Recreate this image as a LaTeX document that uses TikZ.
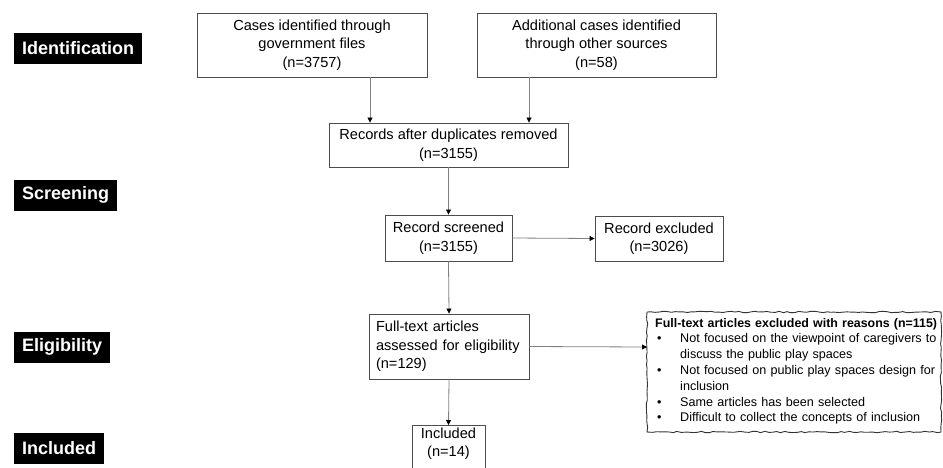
\documentclass[tikz,border=0pt]{standalone}
\usepackage{fontspec}
\setmainfont{Liberation Sans}
\usetikzlibrary{arrows.meta,decorations.pathmorphing}
\begin{document}
\begin{tikzpicture}[x=1pt,y=-1pt,
  box/.style={draw=black!70, line width=0.9pt, inner sep=2pt, align=center,
    font=\fontsize{14.6}{18.5}\selectfont},
  phase/.style={fill=black, text=white, font=\bfseries\fontsize{18}{20}\selectfont,
    inner xsep=8pt, inner ysep=0pt, anchor=west, minimum height=31pt},
  arr/.style={draw=black!50, line width=0.8pt,
    -{Triangle[length=5pt,width=5pt,color=black]}},
  wavy/.style={draw=black!80, line width=0.9pt, decorate,
    decoration={random steps, segment length=4pt, amplitude=0.7pt}}
]
\clip (0,0) rectangle (943,467);
\fill[white] (0,0) rectangle (943,467);

% phase labels
\node[phase] (lid) at (14,48.5) {Identification};
\node[phase] (lsc) at (14,195) {Screening};
\node[phase] (lel) at (14,347) {Eligibility};
\node[phase] (lin) at (14,448) {Included};

% boxes
\node[box, minimum width=230pt, minimum height=64pt] (b1) at (312,45)
  {Cases identified through\\government files\\(n=3757)};
\node[box, minimum width=239pt, minimum height=64pt] (b2) at (596.5,45)
  {Additional cases identified\\through other sources\\(n=58)};
\node[box, minimum width=239pt, minimum height=44pt] (rec) at (448.5,145)
  {Records after duplicates removed\\(n=3155)};
\node[box, minimum width=127pt, minimum height=46pt] (scr) at (448.5,238)
  {Record screened\\(n=3155)};
\node[box, minimum width=128pt, minimum height=45pt] (exc) at (659,238.5)
  {Record excluded\\(n=3026)};
\node[box, minimum width=160pt, minimum height=65pt, align=left, text width=146pt] (ft) at (449,346.5)
  {Full-text articles\\assessed for eligibility\\(n=129)};
\node[box, minimum width=73pt, minimum height=75pt, anchor=north] (inc) at (448.5,425)
  {Included\\(n=14)\\[26pt]};

% excluded reasons box
\node[anchor=north west, inner sep=0pt, text width=310pt, align=left,
  font=\fontsize{12.6}{15.8}\selectfont] (rsn) at (655,318)
  {{\bfseries\fontsize{12.4}{15.8}\selectfont Full-text articles excluded with reasons (n=115)}\\
   \makebox[25pt][l]{\hspace{2pt}•}Not focused on the viewpoint of caregivers to\\
   \hspace*{25pt}discuss the public play spaces\\
   \makebox[25pt][l]{\hspace{2pt}•}Not focused on public play spaces design for\\
   \hspace*{25pt}inclusion\\
   \makebox[25pt][l]{\hspace{2pt}•}Same articles has been selected\\
   \makebox[25pt][l]{\hspace{2pt}•}Difficult to collect the concepts of inclusion};
\coordinate (rw) at (647,347);
\pgfmathsetseed{7}
\draw[wavy] (647,312) -- (941,312) -- (941,432) -- (647,432) -- cycle;

% connectors
\draw[arr] (b1.south -| 370,0) -- (rec.north -| 370,0);
\draw[arr] (b2.south -| 529,0) -- (rec.north -| 529,0);
\draw[arr] (rec.south) -- (scr.north);
\draw[arr] (scr.east) -- (exc.west);
\draw[arr] (scr.south) -- (ft.north);
\draw[arr] (ft.east) -- (rw);
\draw[arr] (ft.south) -- (inc.north);
\end{tikzpicture}
\end{document}
